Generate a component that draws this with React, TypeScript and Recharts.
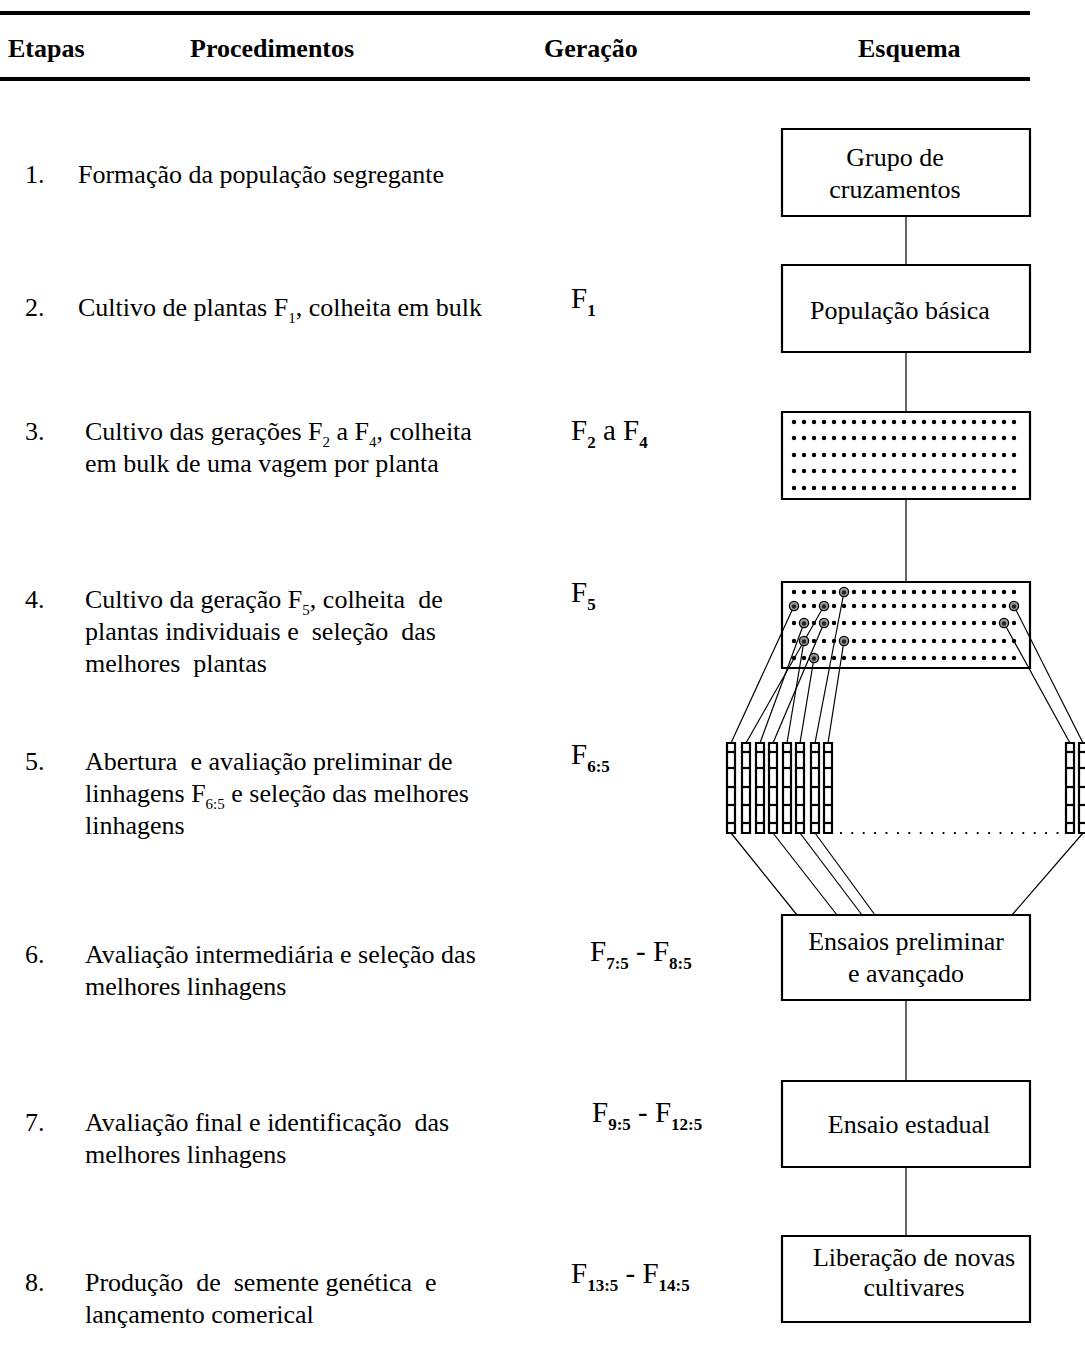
import React from 'react';
import { ComposedChart, XAxis, YAxis, Scatter, ReferenceLine, ReferenceArea } from 'recharts';

const W = 1085;
const H = 1370;
const FONT = '"Liberation Serif", "Times New Roman", serif';

// ---- header ----
const headerLabels = ['Etapas', 'Procedimentos', 'Geração', 'Esquema'];
const headerX = [8, 190, 544, 858];
const headerBaseline = 57;
const ruleYs = [13, 79];
const ruleEndX = 1030;

// ---- rows ----
const stepLabels = ['1.', '2.', '3.', '4.', '5.', '6.', '7.', '8.'];
const stepX = 25;
const stepBaselines = [183, 316, 440, 608, 770, 963, 1131, 1291];
const procedureX = [78, 78, 85, 85, 85, 85, 85, 85];
const procedureLines: string[][] = [
  ['Formação da população segregante'],
  ['Cultivo de plantas F{1}, colheita em bulk'],
  ['Cultivo das gerações F{2} a F{4}, colheita', 'em bulk de uma vagem por planta'],
  ['Cultivo da geração F{5}, colheita  de', 'plantas individuais e  seleção  das', 'melhores  plantas'],
  ['Abertura  e avaliação preliminar de', 'linhagens F{6:5} e seleção das melhores', 'linhagens'],
  ['Avaliação intermediária e seleção das', 'melhores linhagens'],
  ['Avaliação final e identificação  das', 'melhores linhagens'],
  ['Produção  de  semente genética  e', 'lançamento comerical'],
];
const lineGap = 32;
const generationLabels = ['', 'F{1}', 'F{2} a F{4}', 'F{5}', 'F{6:5}', 'F{7:5} - F{8:5}', 'F{9:5} - F{12:5}', 'F{13:5} - F{14:5}'];
const generationX = [0, 571, 571, 571, 571, 590, 592, 571];
const generationBaselines = [0, 308, 440, 602, 764, 961, 1122, 1283];

// ---- scheme ----
const boxLeft = 782;
const boxRight = 1030;
const connectorX = 906;
const boxTops = [129, 265, 412, 582, 915, 1081, 1236];
const boxBottoms = [216, 352, 499, 668, 1000, 1167, 1322];
const boxLabels: string[][] = [
  ['Grupo de', 'cruzamentos'],
  ['População básica'],
  [],
  [],
  ['Ensaios preliminar', 'e avançado'],
  ['Ensaio estadual'],
  ['Liberação de novas', 'cultivares'],
];
const boxLabelCenters = [895, 900, 906, 906, 906, 909, 914];
const boxLabelBaselines: number[][] = [
  [166, 198],
  [319],
  [],
  [],
  [950, 982],
  [1133],
  [1266, 1296],
];
const connectors: [number, number][] = [
  [216, 265],
  [352, 412],
  [499, 582],
  [1000, 1081],
  [1167, 1236],
];

// dotted populations
const dotXs = [794, 804, 814, 824, 834, 844, 854, 864, 874, 884, 894, 904, 914, 924, 934, 944, 954, 964, 974, 984, 994, 1004, 1014];
const bulkRowYs = [422, 438, 455, 471, 488];
const plantRowYs = [592, 606, 623, 641, 658];
const selectedPlants = [
  { x: 844, y: 592 },
  { x: 794, y: 606 },
  { x: 824, y: 606 },
  { x: 1014, y: 606 },
  { x: 804, y: 623 },
  { x: 824, y: 623 },
  { x: 1004, y: 623 },
  { x: 804, y: 641 },
  { x: 844, y: 641 },
  { x: 814, y: 658 },
];

// progeny rows (F6:5 lines)
const progenyXs = [731, 746, 760, 773, 787, 800, 815, 828, 1070, 1083];
const progenyTop = 743;
const progenyBottom = 833;
const progenyDividers = [752, 768, 787, 805, 823];
const progenyHalfWidth = 4;
// which selected plant goes to which progeny row (index into selectedPlants)
const plantToProgeny = [1, 2, 4, 5, 7, 9, 0, 8, 6, 3];
// progeny rows that advance to the trials, with landing x on the trial box
const advancingProgeny = [0, 3, 5, 6, 9];
const advanceLandingX = [797, 837, 862, 875, 1012];
const ellipsisStartX = 840;
const ellipsisEndX = 1062;

// ---- helpers ----
type Part = { t: string; sub: boolean };
function parseRich(s: string): Part[] {
  const parts: Part[] = [];
  const re = /\{([^}]*)\}/g;
  let last = 0;
  let m: RegExpExecArray | null;
  while ((m = re.exec(s))) {
    if (m.index > last) parts.push({ t: s.slice(last, m.index), sub: false });
    parts.push({ t: m[1], sub: true });
    last = re.lastIndex;
  }
  if (last < s.length) parts.push({ t: s.slice(last), sub: false });
  return parts;
}

type TextPoint = { x: number; y: number; text: string; variant: string };

const variants: Record<string, { size: number; weight: string | number; subSize: number; subWeight: string | number; subDy: number; anchor: string }> = {
  header: { size: 26, weight: 'bold', subSize: 16, subWeight: 'normal', subDy: 7, anchor: 'start' },
  body: { size: 26, weight: 'normal', subSize: 15, subWeight: 'normal', subDy: 7, anchor: 'start' },
  gen: { size: 29, weight: 'normal', subSize: 17, subWeight: 'bold', subDy: 8, anchor: 'start' },
  box: { size: 26, weight: 'normal', subSize: 16, subWeight: 'normal', subDy: 7, anchor: 'middle' },
};

const RichText = (props: any) => {
  const { cx, cy, payload } = props;
  if (cx == null || cy == null || !payload) return null;
  const v = variants[payload.variant];
  const parts = parseRich(payload.text);
  let shifted = false;
  return (
    <text
      x={cx}
      y={cy}
      fontFamily={FONT}
      fontSize={v.size}
      fontWeight={v.weight}
      textAnchor={v.anchor}
      fill="#000"
      style={{ whiteSpace: 'pre' }}
    >
      {parts.map((p, i) => {
        let dy = 0;
        if (p.sub && !shifted) {
          dy = v.subDy;
          shifted = true;
        } else if (!p.sub && shifted) {
          dy = -v.subDy;
          shifted = false;
        }
        return (
          <tspan
            key={i}
            dy={dy || undefined}
            fontSize={p.sub ? v.subSize : v.size}
            fontWeight={p.sub ? v.subWeight : v.weight}
          >
            {p.t}
          </tspan>
        );
      })}
    </text>
  );
};

const SmallDot = (props: any) => {
  const { cx, cy } = props;
  if (cx == null || cy == null) return null;
  return <circle cx={cx} cy={cy} r={2.2} fill="#000" />;
};

const SelectedDot = (props: any) => {
  const { cx, cy } = props;
  if (cx == null || cy == null) return null;
  return (
    <g>
      <circle cx={cx} cy={cy} r={4.6} fill="#9a9a9a" stroke="#000" strokeWidth={1.3} />
      <circle cx={cx} cy={cy + 0.5} r={2.2} fill="#222" />
    </g>
  );
};

// ---- build tables ----
const textPoints: TextPoint[] = [];
headerLabels.forEach((t, i) => textPoints.push({ x: headerX[i], y: headerBaseline, text: t, variant: 'header' }));
stepLabels.forEach((t, i) => textPoints.push({ x: stepX, y: stepBaselines[i], text: t, variant: 'body' }));
procedureLines.forEach((lines, i) =>
  lines.forEach((t, j) => textPoints.push({ x: procedureX[i], y: stepBaselines[i] + j * lineGap, text: t, variant: 'body' }))
);
generationLabels.forEach((t, i) => {
  if (t) textPoints.push({ x: generationX[i], y: generationBaselines[i], text: t, variant: 'gen' });
});
boxLabels.forEach((lines, i) =>
  lines.forEach((t, j) => textPoints.push({ x: boxLabelCenters[i], y: boxLabelBaselines[i][j], text: t, variant: 'box' }))
);

const gridDots: { x: number; y: number }[] = [];
[...bulkRowYs, ...plantRowYs].forEach((y) => dotXs.forEach((x) => gridDots.push({ x, y })));

export default function App() {
  return (
    <div style={{ position: 'absolute', left: 0, top: 0, width: W, height: H, background: '#fff' }}>
      <ComposedChart width={W} height={H} margin={{ top: 0, right: 0, bottom: 0, left: 0 }}>
        <XAxis type="number" dataKey="x" domain={[0, W]} hide allowDataOverflow />
        <YAxis type="number" dataKey="y" domain={[0, H]} reversed hide allowDataOverflow />

        {ruleYs.map((y, i) => (
          <ReferenceLine key={`rule${i}`} segment={[{ x: 0, y }, { x: ruleEndX, y }]} stroke="#000" strokeWidth={4} />
        ))}

        {boxTops.map((top, i) => (
          <ReferenceArea
            key={`box${i}`}
            x1={boxLeft}
            x2={boxRight}
            y1={top}
            y2={boxBottoms[i]}
            fill="#fff"
            fillOpacity={0}
            stroke="#000"
            strokeWidth={2.2}
          />
        ))}

        {connectors.map(([a, b], i) => (
          <ReferenceLine key={`con${i}`} segment={[{ x: connectorX, y: a }, { x: connectorX, y: b }]} stroke="#000" strokeWidth={1.2} />
        ))}

        {plantToProgeny.map((pi, k) => (
          <ReferenceLine
            key={`sel${k}`}
            segment={[
              { x: selectedPlants[pi].x, y: selectedPlants[pi].y },
              { x: progenyXs[k], y: progenyTop },
            ]}
            stroke="#000"
            strokeWidth={1.2}
          />
        ))}

        {advancingProgeny.map((pk, k) => (
          <ReferenceLine
            key={`adv${k}`}
            segment={[
              { x: progenyXs[pk], y: progenyBottom },
              { x: advanceLandingX[k], y: boxTops[4] },
            ]}
            stroke="#000"
            strokeWidth={1.2}
          />
        ))}

        {progenyXs.map((x, i) => (
          <ReferenceArea
            key={`prog${i}`}
            x1={x - progenyHalfWidth}
            x2={x + progenyHalfWidth}
            y1={progenyTop}
            y2={progenyBottom}
            fill="#fff"
            fillOpacity={1}
            stroke="#000"
            strokeWidth={2.2}
            ifOverflow="visible"
          />
        ))}
        {progenyXs.map((x, i) =>
          progenyDividers.map((y, j) => (
            <ReferenceLine
              key={`div${i}-${j}`}
              segment={[{ x: x - progenyHalfWidth, y }, { x: x + progenyHalfWidth, y }]}
              stroke="#000"
              strokeWidth={2.2}
              ifOverflow="visible"
            />
          ))
        )}

        <ReferenceLine
          segment={[{ x: ellipsisStartX, y: progenyBottom }, { x: ellipsisEndX, y: progenyBottom }]}
          stroke="#000"
          strokeWidth={1.8}
          strokeDasharray="1.8 9.6"
        />

        <Scatter data={gridDots} shape={<SmallDot />} isAnimationActive={false} />
        <Scatter data={selectedPlants} shape={<SelectedDot />} isAnimationActive={false} />
        <Scatter data={textPoints} shape={<RichText />} isAnimationActive={false} />
      </ComposedChart>
    </div>
  );
}
